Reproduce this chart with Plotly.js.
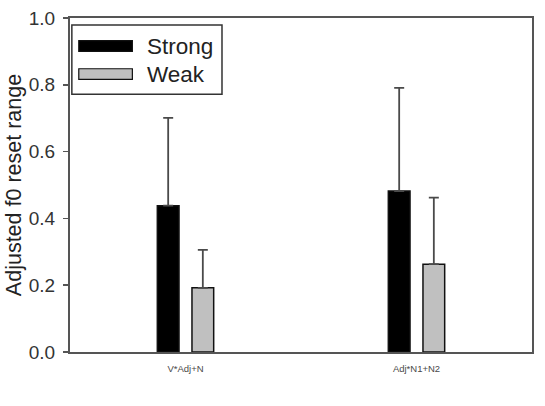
<!DOCTYPE html>
<html>
<head>
<meta charset="utf-8">
<script src="https://cdn.plot.ly/plotly-3.0.1.min.js"></script>
<style>
  html, body { margin: 0; padding: 0; background: #ffffff; }
  #chart { width: 545px; height: 406px; }
</style>
</head>
<body>
<div id="chart"></div>
<script>
// Conditions on the x axis
const categories = ["V*Adj+N", "Adj*N1+N2"];

// Mean adjusted f0 reset range per condition
const strongValues = [0.438, 0.482];
const weakValues = [0.192, 0.263];

// Upper error (standard deviation) above each mean
const strongErrors = [0.263, 0.309];
const weakErrors = [0.114, 0.199];

// Y axis ticks
const yTickValues = [0.0, 0.2, 0.4, 0.6, 0.8, 1.0];
const yTickLabels = ["0.0", "0.2", "0.4", "0.6", "0.8", "1.0"];

const seriesNames = ["Strong", "Weak"];

const FONT = "Liberation Sans, Arial, sans-serif";
const xIndex = categories.map((_, i) => i);

function barTrace(name, values, errors, fill, offset) {
  return {
    type: "bar",
    name: name,
    x: xIndex,
    y: values,
    width: 0.094,
    offset: offset,
    marker: { color: fill, line: { color: "#111111", width: 1.5 } },
    error_y: {
      type: "data",
      symmetric: false,
      array: errors,
      arrayminus: errors.map(() => 0),
      color: "#4a4a4a",
      thickness: 1.8,
      width: 5
    },
    showlegend: false,
    hoverinfo: "x+y"
  };
}

const traces = [
  barTrace(seriesNames[0], strongValues, strongErrors, "#000000", -0.122),
  barTrace(seriesNames[1], weakValues, weakErrors, "#c0c0c0", 0.028)
];

// Boxed legend with long swatches drawn in paper coordinates
const legendShapes = [
  { type: "rect", xref: "paper", yref: "paper", x0: 0.004, x1: 0.329, y0: 0.772, y1: 0.979,
    line: { color: "#333333", width: 1.5 }, fillcolor: "#ffffff", layer: "above" },
  { type: "rect", xref: "paper", yref: "paper", x0: 0.019, x1: 0.135, y0: 0.900, y1: 0.932,
    line: { color: "#111111", width: 1.2 }, fillcolor: "#000000", layer: "above" },
  { type: "rect", xref: "paper", yref: "paper", x0: 0.019, x1: 0.135, y0: 0.816, y1: 0.848,
    line: { color: "#111111", width: 1.2 }, fillcolor: "#c0c0c0", layer: "above" }
];
const legendTexts = seriesNames.map((name, i) => ({
  xref: "paper", yref: "paper", x: 0.163, y: [0.916, 0.832][i],
  xanchor: "left", yanchor: "middle", text: name, showarrow: false,
  font: { family: FONT, size: 22.5, color: "#222222" }
}));

const layout = {
  width: 545,
  height: 406,
  margin: { l: 70, r: 13, t: 18, b: 54 },
  paper_bgcolor: "#ffffff",
  plot_bgcolor: "#ffffff",
  font: { family: FONT, color: "#333333" },
  bargap: 0,
  xaxis: {
    range: [-0.5, 1.5],
    tickvals: xIndex,
    ticktext: categories,
    ticks: "",
    ticklabelstandoff: 7,
    tickfont: { family: FONT, size: 9.5, color: "#4a4a4a" },
    showgrid: false,
    zeroline: false,
    showline: true,
    linecolor: "#555555",
    linewidth: 2,
    mirror: true,
    fixedrange: true
  },
  yaxis: {
    range: [0, 1.0],
    tickvals: yTickValues,
    ticktext: yTickLabels,
    ticks: "outside",
    ticklen: 5,
    tickwidth: 1.5,
    tickcolor: "#555555",
    ticklabelstandoff: 4,
    tickfont: { family: FONT, size: 19, color: "#333333" },
    showgrid: false,
    zeroline: false,
    showline: true,
    linecolor: "#555555",
    linewidth: 2,
    mirror: true,
    title: { text: "Adjusted f0 reset range", font: { family: FONT, size: 21.5, color: "#222222" }, standoff: 1 },
    fixedrange: true
  },
  shapes: legendShapes,
  annotations: legendTexts
};

Plotly.newPlot("chart", traces, layout, { displayModeBar: false, staticPlot: true });
</script>
</body>
</html>
